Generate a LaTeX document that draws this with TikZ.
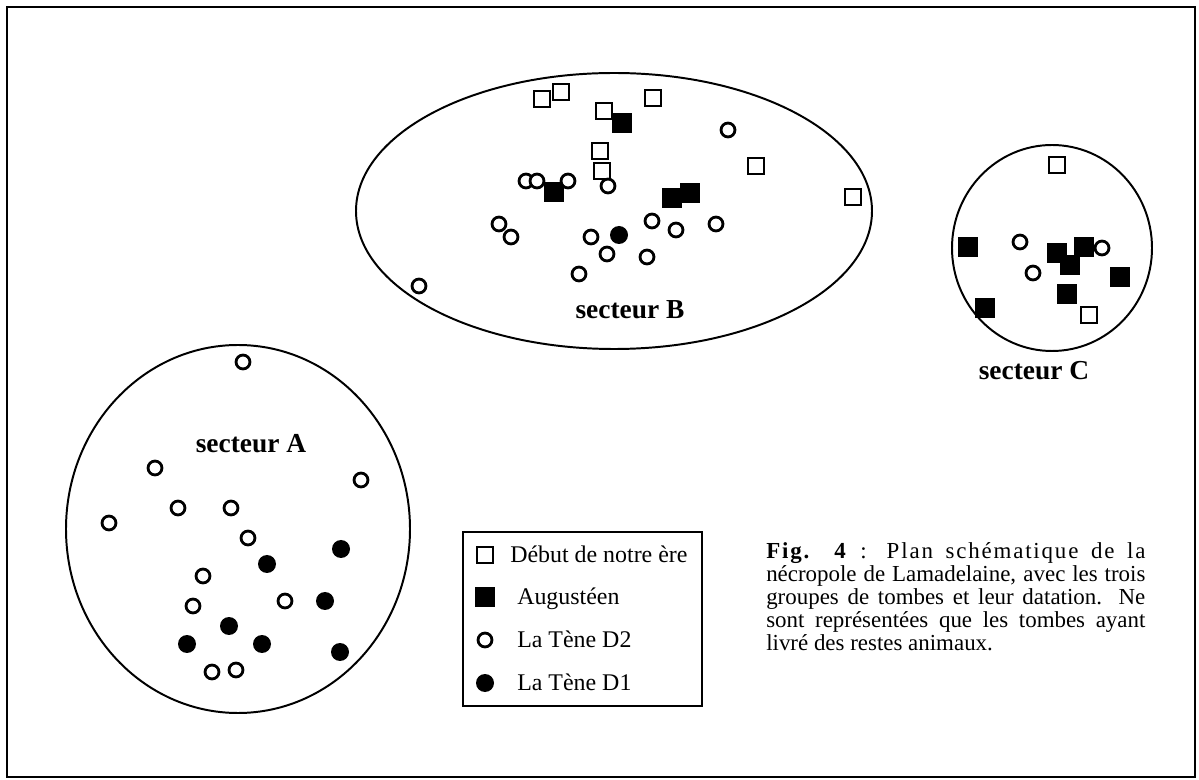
\documentclass[tikz,border=0pt]{standalone}
\usepackage{fontspec}
\setmainfont{Liberation Serif}

\tikzset{
  debut/.style={draw,fill=white,line width=1.9pt,minimum size=11.4pt,inner sep=0pt},
  augusteen/.style={fill=black,minimum size=14pt,inner sep=0pt},
  tened2/.style={circle,draw,fill=white,line width=2pt,minimum size=9.9pt,inner sep=0pt},
  tened1/.style={circle,fill=black,minimum size=12.8pt,inner sep=0pt},
  secteur/.style={font=\fontsize{19.5}{22}\selectfont\bfseries,inner sep=0pt,anchor=base},
  legtext/.style={font=\fontsize{17}{20}\selectfont,inner sep=0pt,anchor=base west}
}

\begin{document}
\begin{tikzpicture}[x=0.025cm,y=-0.025cm]

      \useasboundingbox (0,0) rectangle (1199,780);
      \draw[line width=1.6pt] (7,7) rectangle (1195,777);

      \begin{scope}[line width=1.4pt]
        \draw (238,529) ellipse [x radius=172,y radius=184];
        \draw (614,211) ellipse [x radius=258,y radius=138];
        \draw (1052,248) ellipse [x radius=100,y radius=103];
      \end{scope}

      \node[secteur] (secA) at (251,453) {secteur A};
      \node[secteur] (secB) at (630,319) {secteur B};
      \node[secteur] (secC) at (1034,380) {secteur C};

      \begin{scope}[every node/.style={debut}]
        \node (bD1) at (542,99)  {};
        \node (bD2) at (561,92)  {};
        \node (bD3) at (604,111) {};
        \node (bD4) at (653,98)  {};
        \node (bD5) at (600,151) {};
        \node (bD6) at (602,171) {};
        \node (bD7) at (756,166) {};
        \node (bD8) at (853,197) {};
        \node (cD1) at (1057,165) {};
        \node (cD2) at (1089,315) {};
      \end{scope}

      \begin{scope}[every node/.style={augusteen}]
        \node (bA1) at (622,123) {};
        \node (bA2) at (554,192) {};
        \node (bA3) at (672,198) {};
        \node (bA4) at (690,193) {};
        \node (cA1) at (968,247)  {};
        \node (cA2) at (1057,253) {};
        \node (cA3) at (1070,265) {};
        \node (cA4) at (1084,247) {};
        \node (cA5) at (1120,277) {};
        \node (cA6) at (1067,294) {};
        \node (cA7) at (985,308)  {};
      \end{scope}

      \begin{scope}[every node/.style={tened2}]
        \node (aO1)  at (243,362) {};
        \node (aO2)  at (155,468) {};
        \node (aO3)  at (361,480) {};
        \node (aO4)  at (178,508) {};
        \node (aO5)  at (231,508) {};
        \node (aO6)  at (109,523) {};
        \node (aO7)  at (248,538) {};
        \node (aO8)  at (203,576) {};
        \node (aO9)  at (193,606) {};
        \node (aO10) at (285,601) {};
        \node (aO11) at (212,672) {};
        \node (aO12) at (236,670) {};
        \node (bO1)  at (728,130) {};
        \node (bO2)  at (526,181) {};
        \node (bO3)  at (537,181) {};
        \node (bO4)  at (568,181) {};
        \node (bO5)  at (608,186) {};
        \node (bO6)  at (499,224) {};
        \node (bO7)  at (511,237) {};
        \node (bO8)  at (591,237) {};
        \node (bO9)  at (652,221) {};
        \node (bO10) at (676,230) {};
        \node (bO11) at (716,224) {};
        \node (bO12) at (607,254) {};
        \node (bO13) at (647,257) {};
        \node (bO14) at (579,274) {};
        \node (bO15) at (419,286) {};
        \node (cO1)  at (1020,242) {};
        \node (cO2)  at (1033,273) {};
        \node (cO3)  at (1102,248) {};
      \end{scope}

      \begin{scope}[every node/.style={tened1}]
        \node (aF1) at (341,549) {};
        \node (aF2) at (267,564) {};
        \node (aF3) at (325,601) {};
        \node (aF4) at (229,626) {};
        \node (aF5) at (187,644) {};
        \node (aF6) at (262,644) {};
        \node (aF7) at (340,652) {};
        \node (bF1) at (619,235) {};
      \end{scope}

      \draw[line width=1pt] (463,532) rectangle (702,706);
      \node[debut]     (kD) at (485,555) {};
      \node[augusteen] (kA) at (485,597) {};
      \node[tened2]    (kO) at (485,640) {};
      \node[tened1]    (kF) at (485,683) {};
      \node[legtext] (tD) at (510,563) {Début de notre ère};
      \node[legtext] (tA) at (517,605) {Augustéen};
      \node[legtext] (tO) at (517,648) {La Tène D2};
      \node[legtext] (tF) at (517,691) {La Tène D1};

      \node[anchor=north west,inner sep=0pt,text width=269.6pt,align=justify,
            font=\fontsize{16.3}{16.4}\selectfont] (caption) at (766,542)
        {{\addfontfeature{LetterSpace=8}\textbf{Fig. 4} : Plan schématique de la}\linebreak
         nécropole de Lamadelaine, avec les trois\linebreak
         groupes de tombes et leur datation. Ne\linebreak
         sont représentées que les tombes ayant\linebreak
         livré des restes animaux.};

    \end{tikzpicture}
\end{document}
